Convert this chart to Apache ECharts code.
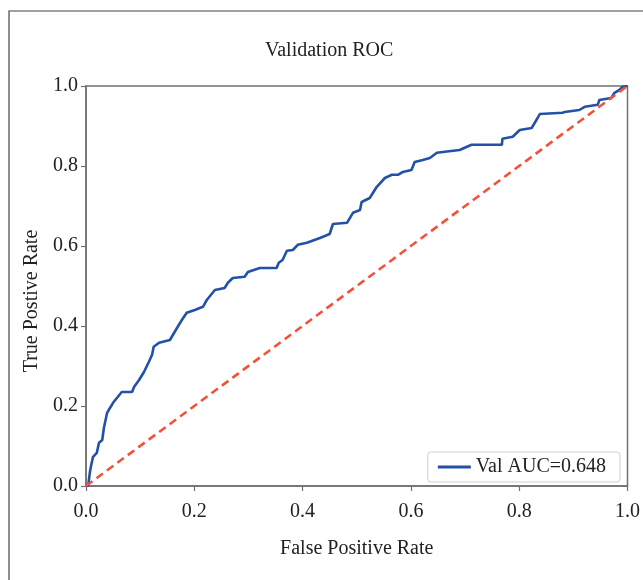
<!DOCTYPE html>
<html>
<head>
<meta charset="utf-8">
<style>
  html, body { margin: 0; padding: 0; background: #fff; }
  #main { width: 643px; height: 580px; }
</style>
<script src="https://cdn.jsdelivr.net/npm/echarts@6/dist/echarts.min.js"></script>
</head>
<body>
<div id="main"></div>
<script>
// 曲线数据
var fprVals = [0, 0.004, 0.007, 0.009, 0.013, 0.020, 0.024, 0.030, 0.033, 0.039, 0.042, 0.050, 0.057, 0.066,
    0.085, 0.089, 0.098, 0.107, 0.116, 0.122, 0.125, 0.135, 0.155, 0.168, 0.177, 0.186, 0.201, 0.216, 0.223,
    0.238, 0.256, 0.262, 0.271, 0.293, 0.299, 0.321, 0.352, 0.356, 0.363, 0.371, 0.382, 0.391, 0.408, 0.432,
    0.450, 0.456, 0.482, 0.493, 0.506, 0.509, 0.524, 0.537, 0.552, 0.565, 0.576, 0.585, 0.601, 0.607, 0.622,
    0.635, 0.648, 0.659, 0.690, 0.712, 0.768, 0.769, 0.788, 0.801, 0.823, 0.834, 0.838, 0.880, 0.884, 0.911,
    0.921, 0.945, 0.948, 0.970, 0.976, 0.985, 0.991, 1.0];
var tprVals = [0, 0, 0.033, 0.048, 0.073, 0.083, 0.108, 0.115, 0.145, 0.183, 0.190, 0.208, 0.220, 0.235,
    0.235, 0.248, 0.265, 0.285, 0.310, 0.328, 0.348, 0.358, 0.365, 0.395, 0.415, 0.433, 0.440, 0.448, 0.465,
    0.490, 0.495, 0.508, 0.520, 0.523, 0.535, 0.545, 0.545, 0.558, 0.565, 0.588, 0.590, 0.603, 0.608, 0.620,
    0.630, 0.655, 0.658, 0.683, 0.690, 0.710, 0.720, 0.748, 0.770, 0.778, 0.778, 0.785, 0.790, 0.810, 0.815,
    0.820, 0.833, 0.835, 0.840, 0.853, 0.853, 0.868, 0.873, 0.890, 0.895, 0.920, 0.930, 0.933, 0.935, 0.940,
    0.948, 0.953, 0.965, 0.970, 0.983, 0.990, 0.998, 1.0];
var diagX = [0, 1];
var diagY = [0, 1];
var tickVals = [0, 0.2, 0.4, 0.6, 0.8, 1.0];
var seriesName = 'Val AUC=0.648';

var fontName = '"Liberation Serif", "DejaVu Serif", serif';

function toPairs(xs, ys) {
    var out = [];
    for (var i = 0; i < xs.length; i++) {
        out.push([xs[i], ys[i]]);
    }
    return out;
}

function initRocChart() {
    var myChart = echarts.init(document.getElementById('main'));
    var axisCommon = {
        type: 'value',
        min: tickVals[0],
        max: tickVals[tickVals.length - 1],
        interval: 0.2,
        axisLine: {show: true, lineStyle: {color: '#707070', width: 1.5}},
        axisTick: {show: true, inside: false, length: 5, lineStyle: {color: '#707070', width: 1.2}},
        splitLine: {show: false},
        axisLabel: {
            color: '#222',
            fontFamily: fontName,
            fontSize: 20,
            formatter: function (v) { return v.toFixed(1); }
        },
        nameLocation: 'middle',
        nameTextStyle: {color: '#222', fontFamily: fontName, fontSize: 20}
    };
    var xAxis = echarts.util.merge({
        name: 'False Positive Rate',
        nameGap: 53,
        axisLabel: {margin: 16}
    }, axisCommon);
    var yAxis = echarts.util.merge({
        name: 'True Postive Rate',
        nameGap: 43,
        axisLabel: {margin: 8},
        nameTextStyle: {padding: [0, 30, 0, 0]}
    }, axisCommon);

    var option = {
        backgroundColor: '#fff',
        animation: false,
        title: {
            text: 'Validation ROC',
            left: 265,
            top: 41,
            padding: 0,
            textStyle: {color: '#222', fontFamily: fontName, fontSize: 20, fontWeight: 'normal'}
        },
        grid: {
            left: 86,
            right: 15,
            top: 86,
            bottom: 94,
            show: true,
            borderColor: '#707070',
            borderWidth: 1.5
        },
        legend: {
            data: [{name: seriesName, icon: 'rect'}],
            right: 23,
            top: 452,
            padding: [5, 14, 5, 10],
            itemWidth: 33,
            itemHeight: 3,
            borderColor: '#d0d0d0',
            borderWidth: 1,
            borderRadius: 3,
            backgroundColor: '#fff',
            textStyle: {color: '#222', fontFamily: fontName, fontSize: 20, lineHeight: 19}
        },
        graphic: [{
            type: 'rect',
            shape: {x: 9, y: 11, width: 700, height: 620},
            style: {fill: 'none', stroke: '#444', lineWidth: 1.2},
            silent: true
        }],
        xAxis: xAxis,
        yAxis: yAxis,
        series: [{
            name: 'diag',
            type: 'line',
            data: toPairs(diagX, diagY),
            showSymbol: false,
            lineStyle: {color: '#f4513b', width: 2.6, type: [8, 5]},
            z: 3
        }, {
            name: seriesName,
            type: 'line',
            data: toPairs(fprVals, tprVals),
            showSymbol: false,
            symbol: 'none',
            lineStyle: {color: '#2451a8', width: 2.6},
            itemStyle: {color: '#2451a8'},
            z: 2
        }]
    };
    myChart.setOption(option);
}

initRocChart();
</script>
</body>
</html>
